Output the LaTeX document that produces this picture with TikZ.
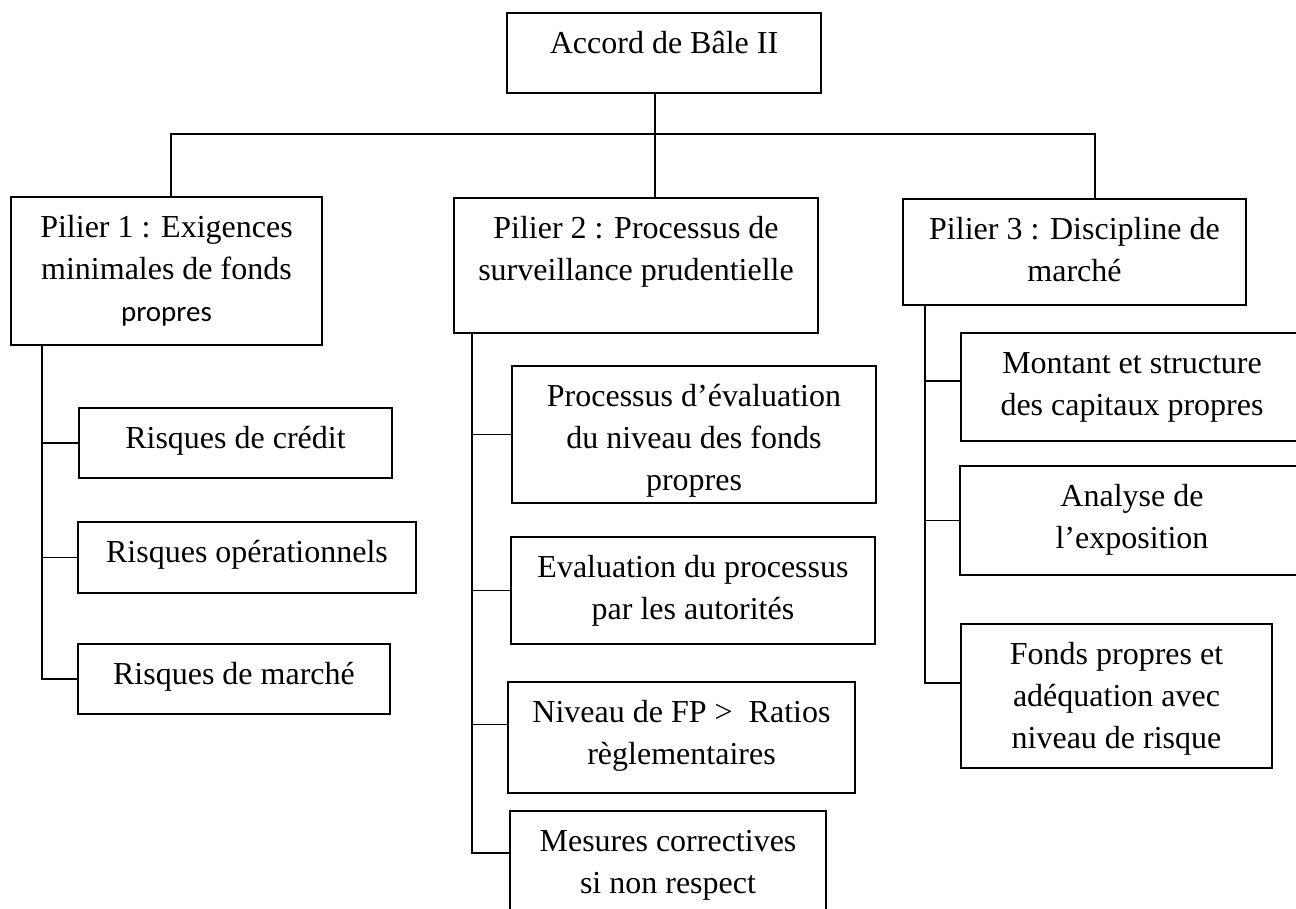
\documentclass[tikz,border=0pt]{standalone}
\usepackage{fontspec}
\setmainfont{Liberation Serif}
\newfontfamily\carlito{Carlito}
\begin{document}
\tikzset{
  box/.style={draw, line width=1.6pt, inner sep=0pt},
  txt/.style={anchor=north, inner sep=0pt, align=center, font=\fontsize{32}{42}\selectfont},
  link/.style={line width=1.6pt},
}
\newcommand{\fl}{\rule{0pt}{30pt}}
\begin{tikzpicture}[x=1pt,y=1pt]
\useasboundingbox (0,0) rectangle (1296,-909);
\clip (0,0) rectangle (1296,-909);
% boxes
\node[box, minimum width=314pt, minimum height=80pt]  (acc) at (664,-53) {};
\node[box, minimum width=311pt, minimum height=148pt] (p1)  at (166.5,-271) {};
\node[box, minimum width=364pt, minimum height=135pt] (p2)  at (636,-265.5) {};
\node[box, minimum width=343pt, minimum height=106pt] (p3)  at (1074.5,-252) {};
\node[box, minimum width=313pt, minimum height=70pt]  (rc)  at (235.5,-443) {};
\node[box, minimum width=338pt, minimum height=71pt]  (ro)  at (247,-557.5) {};
\node[box, minimum width=312pt, minimum height=70pt]  (rm)  at (234,-679) {};
\node[box, minimum width=364pt, minimum height=137pt] (pe)  at (694,-434.5) {};
\node[box, minimum width=364pt, minimum height=107pt] (ev)  at (693,-590.5) {};
\node[box, minimum width=347pt, minimum height=111pt] (nv)  at (681.5,-737.5) {};
\node[box, minimum width=316pt, minimum height=114pt] (mc)  at (668,-868) {};
\node[box, minimum width=342pt, minimum height=108pt] (mo)  at (1132,-387) {};
\node[box, minimum width=344pt, minimum height=109pt] (an)  at (1132,-520.5) {};
\node[box, minimum width=311pt, minimum height=144pt] (fp)  at (1116.5,-696) {};
% texts
\node[txt] (acc-t) at ([yshift=-11pt]acc.north) {\fl Accord de Bâle II};
\node[txt] (p1-t) at ([yshift=-11pt]p1.north) {\fl Pilier 1 : Exigences\\minimales de fonds\\{\carlito\fontsize{29}{42}\selectfont propres}};
\node[txt] (p2-t) at ([yshift=-11pt]p2.north) {\fl Pilier 2 : Processus de\\surveillance prudentielle};
\node[txt] (p3-t) at ([yshift=-11pt]p3.north) {\fl Pilier 3 : Discipline de\\marché};
\node[txt] (rc-t) at ([yshift=-11pt]rc.north) {\fl Risques de crédit};
\node[txt] (ro-t) at ([yshift=-11pt]ro.north) {\fl Risques opérationnels};
\node[txt] (rm-t) at ([yshift=-11pt]rm.north) {\fl Risques de marché};
\node[txt] (pe-t) at ([yshift=-11pt]pe.north) {\fl Processus d’évaluation\\du niveau des fonds\\propres};
\node[txt] (ev-t) at ([yshift=-11pt]ev.north) {\fl Evaluation du processus\\par les autorités};
\node[txt] (nv-t) at ([yshift=-11pt]nv.north) {\fl Niveau de FP >\ \ Ratios\\règlementaires};
\node[txt] (mc-t) at ([yshift=-11pt]mc.north) {\fl Mesures correctives\\si non respect};
\node[txt] (mo-t) at ([yshift=-11pt]mo.north) {\fl Montant et structure\\des capitaux propres};
\node[txt] (an-t) at ([yshift=-11pt]an.north) {\fl Analyse de\\l’exposition};
\node[txt] (fp-t) at ([yshift=-11pt]fp.north) {\fl Fonds propres et\\adéquation avec\\niveau de risque};
% connectors
\coordinate (cv) at (655,-134);
\coordinate (b1) at (171,-134);
\coordinate (b3) at (1095,-134);
\draw[link] (acc.south -| cv) -- (p2.north -| cv);
\draw[link] (p1.north -| b1) -- (b1) -- (b3) -- (p3.north -| b3);
\coordinate (t1) at (42,0);
\coordinate (t2) at (472,0);
\coordinate (t3) at (925,0);
\coordinate (mcb) at ([yshift=15pt]mc.west);
\coordinate (nvb) at ([yshift=13pt]nv.west);
\coordinate (fpb) at ([yshift=13pt]fp.west);
\coordinate (mob) at ([yshift=6pt]mo.west);
\draw[link] (p1.south -| t1) |- (rm.west);
\draw[link] (t1 |- rc.west) -- (rc.west);
\draw[link] (t1 |- ro.west) -- (ro.west);
\draw[link] (p2.south -| t2) |- (mcb);
\draw[link] (t2 |- pe.west) -- (pe.west);
\draw[link] (t2 |- ev.west) -- (ev.west);
\draw[link] (t2 |- nvb) -- (nvb);
\draw[link] (p3.south -| t3) |- (fpb);
\draw[link] (t3 |- mob) -- (mob);
\draw[link] (t3 |- an.west) -- (an.west);
\end{tikzpicture}
\end{document}
